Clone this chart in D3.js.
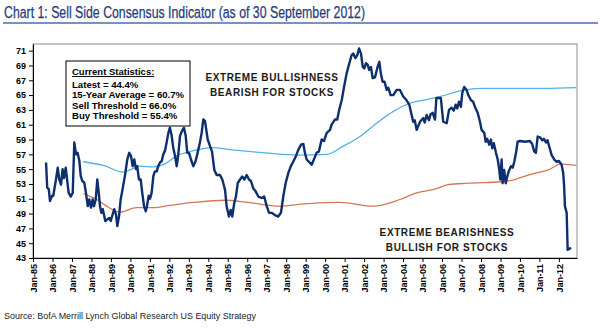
<!DOCTYPE html>
<html>
<head>
<meta charset="utf-8">
<script src="https://cdn.jsdelivr.net/npm/d3@7"></script>
<style>
  body { margin: 0; background: #fff; }
  svg { display: block; }
</style>
</head>
<body>
<div id="chart"></div>
<script>
// indicator (monthly-ish readings, decimal years)
const indicatorYears = [
  1985.67, 1985.73, 1985.81, 1985.87, 1985.98, 1986.04, 1986.18, 1986.27, 1986.35, 1986.44,
  1986.52, 1986.59, 1986.68, 1986.75, 1986.83, 1986.94, 1987.04, 1987.12, 1987.21, 1987.29,
  1987.38, 1987.45, 1987.53, 1987.63, 1987.72, 1987.81, 1987.89, 1987.98, 1988.06, 1988.13,
  1988.22, 1988.30, 1988.37, 1988.44, 1988.51, 1988.58, 1988.64, 1988.71, 1988.81, 1988.92,
  1988.99, 1989.09, 1989.17, 1989.26, 1989.33, 1989.42, 1989.50, 1989.60, 1989.72, 1989.84,
  1989.94, 1990.03, 1990.12, 1990.20, 1990.29, 1990.35, 1990.44, 1990.53, 1990.61, 1990.70,
  1990.79, 1990.85, 1990.94, 1991.01, 1991.09, 1991.18, 1991.26, 1991.35, 1991.43, 1991.52,
  1991.61, 1991.69, 1991.78, 1991.86, 1991.95, 1992.03, 1992.12, 1992.20, 1992.29, 1992.38,
  1992.46, 1992.55, 1992.66, 1992.75, 1992.84, 1992.92, 1993.01, 1993.11, 1993.23, 1993.35,
  1993.45, 1993.57, 1993.66, 1993.74, 1993.83, 1993.97, 1994.09, 1994.19, 1994.31, 1994.43,
  1994.60, 1994.72, 1994.86, 1994.94, 1995.06, 1995.15, 1995.23, 1995.33, 1995.42, 1995.51,
  1995.63, 1995.74, 1995.85, 1995.97, 1996.09, 1996.19, 1996.31, 1996.43, 1996.57, 1996.74,
  1996.87, 1997.00, 1997.12, 1997.25, 1997.42, 1997.59, 1997.73, 1997.85, 1997.97, 1998.11,
  1998.24, 1998.36, 1998.49, 1998.62, 1998.76, 1998.88, 1998.96, 1999.05, 1999.31, 1999.56,
  1999.68, 1999.82, 1999.94, 2000.08, 2000.25, 2000.33, 2000.50, 2000.62, 2000.72, 2000.85,
  2000.97, 2001.10, 2001.24, 2001.36, 2001.44, 2001.55, 2001.65, 2001.74, 2001.84, 2001.93,
  2002.01, 2002.09, 2002.18, 2002.26, 2002.35, 2002.44, 2002.56, 2002.67, 2002.78, 2002.86,
  2002.95, 2003.05, 2003.16, 2003.24, 2003.36, 2003.50, 2003.67, 2003.84, 2004.01, 2004.18,
  2004.32, 2004.44, 2004.52, 2004.60, 2004.70, 2004.87, 2005.04, 2005.11, 2005.21, 2005.33,
  2005.41, 2005.52, 2005.64, 2005.71, 2005.81, 2005.94, 2006.06, 2006.24, 2006.36, 2006.49,
  2006.60, 2006.70, 2006.78, 2006.87, 2006.97, 2007.04, 2007.14, 2007.26, 2007.35, 2007.49,
  2007.60, 2007.69, 2007.83, 2007.95, 2008.03, 2008.17, 2008.24, 2008.32, 2008.42, 2008.51,
  2008.58, 2008.66, 2008.77, 2008.86, 2008.94, 2008.99, 2009.06, 2009.11, 2009.19, 2009.27,
  2009.37, 2009.44, 2009.54, 2009.63, 2009.71, 2009.80, 2009.88, 2010.00, 2010.26, 2010.51,
  2010.63, 2010.73, 2010.82, 2010.91, 2011.03, 2011.15, 2011.23, 2011.34, 2011.42, 2011.50,
  2011.63, 2011.76, 2011.88, 2012.00, 2012.14, 2012.22, 2012.27, 2012.31, 2012.40, 2012.45,
  2012.57, 2012.62
];
const indicatorValues = [
  55.9, 52.5, 52.3, 50.7, 51.4, 51.4, 53.6, 55.2, 53.6, 52.9,
  55.0, 53.8, 55.2, 53.6, 51.8, 51.3, 51.8, 58.6, 57.0, 57.2,
  56.1, 54.1, 53.4, 53.2, 51.8, 50.0, 50.9, 49.8, 50.9, 50.0,
  50.9, 53.6, 52.0, 50.0, 49.1, 49.6, 48.9, 48.0, 48.2, 48.4,
  48.0, 48.9, 49.6, 48.9, 47.3, 48.7, 50.9, 52.3, 54.1, 56.3,
  57.2, 56.8, 55.4, 56.3, 55.0, 55.4, 53.6, 53.6, 51.8, 50.0,
  49.3, 50.0, 51.4, 51.0, 51.8, 54.1, 54.7, 54.7, 55.4, 55.9,
  56.1, 57.0, 57.5, 58.6, 59.9, 60.6, 59.5, 57.9, 56.8, 55.4,
  57.0, 59.5, 60.2, 60.6, 59.5, 57.2, 57.2, 56.3, 55.4, 56.1,
  57.2, 58.6, 59.9, 61.7, 61.5, 59.0, 58.1, 57.4, 54.9, 54.2,
  54.2, 53.6, 52.2, 50.0, 48.6, 49.5, 48.6, 50.4, 51.3, 53.1,
  53.6, 54.0, 53.6, 54.2, 53.6, 53.4, 52.4, 52.0, 51.3, 51.1,
  51.3, 50.0, 49.1, 49.1, 48.8, 48.6, 49.1, 51.3, 53.1, 54.5,
  55.4, 56.0, 56.7, 57.6, 58.3, 58.4, 57.2, 56.3, 55.6, 57.2,
  57.4, 59.0, 58.8, 59.9, 60.3, 61.0, 61.7, 61.7, 63.0, 64.3,
  66.1, 67.9, 69.3, 70.4, 70.6, 70.0, 70.4, 71.3, 70.6, 68.8,
  68.6, 69.3, 69.1, 68.4, 68.8, 67.3, 67.4, 68.6, 69.5, 67.9,
  66.8, 66.8, 65.7, 66.0, 65.0, 65.0, 65.7, 65.7, 64.8, 64.3,
  63.7, 62.3, 61.4, 61.6, 60.3, 61.4, 61.9, 61.3, 62.3, 61.6,
  62.4, 62.6, 61.7, 64.6, 64.6, 64.6, 61.4, 61.2, 63.0, 63.3,
  62.9, 63.7, 63.2, 64.1, 63.4, 65.3, 66.1, 65.7, 65.0, 64.3,
  64.1, 63.4, 62.6, 61.4, 60.3, 59.9, 58.7, 59.1, 58.3, 59.0,
  57.8, 58.5, 57.2, 56.3, 54.9, 53.6, 56.3, 53.1, 54.9, 53.1,
  54.2, 54.8, 55.4, 55.2, 56.0, 57.2, 58.7, 58.8, 58.7, 58.8,
  58.4, 57.4, 57.2, 59.4, 59.3, 58.9, 59.1, 58.6, 58.9, 58.1,
  56.9, 56.3, 56.0, 56.1, 55.6, 54.5, 52.7, 50.0, 49.1, 44.1,
  44.3, 44.4
];

// sell threshold (light blue)
const sellYears = [
  1987.58, 1988.61, 1989.64, 1989.98, 1990.49, 1991.18, 1991.78, 1992.38, 1992.80, 1993.23,
  1993.83, 1994.19, 1995.20, 1996.91, 1998.62, 2000.08, 2000.93, 2001.79, 2002.64, 2003.50,
  2004.35, 2005.21, 2005.89, 2007.18, 2008.20, 2009.90, 2011.28, 2012.90
];
const sellValues = [
  56.0, 55.5, 54.6, 54.9, 55.4, 55.3, 55.7, 56.8, 57.2, 57.5,
  57.8, 57.9, 57.6, 57.2, 56.9, 57.0, 58.1, 59.4, 61.2, 62.8,
  63.9, 64.4, 64.8, 65.7, 65.9, 65.9, 65.9, 66.0
];

// buy threshold (orange-red)
const buyYears = [
  1987.58, 1988.27, 1988.78, 1989.47, 1990.32, 1991.18, 1992.03, 1993.23, 1994.86, 1996.05,
  1997.68, 1998.96, 2000.76, 2002.47, 2003.84, 2004.70, 2005.64, 2006.32, 2007.35, 2009.06,
  2009.74, 2010.43, 2011.45, 2012.14, 2012.48, 2012.90
];
const buyValues = [
  51.7, 50.9, 50.0, 49.2, 49.8, 49.8, 50.1, 50.5, 50.8, 50.5,
  50.0, 50.3, 50.5, 50.0, 50.9, 51.8, 52.3, 52.9, 53.1, 53.3,
  53.6, 54.2, 54.9, 55.7, 55.6, 55.5
];

const yTicks = d3.range(43, 72, 2);
const xTickYears = d3.range(1985, 2013);

const statsLines = [
  "Latest = 44.4%",
  "15-Year Average = 60.7%",
  "Sell Threshold = 66.0%",
  "Buy Threshold = 55.4%"
];

const width = 600, height = 328;
const plot = {left: 33, right: 577, top: 44, bottom: 258};

const svg = d3.select("#chart").append("svg")
  .attr("width", width)
  .attr("height", height);

const x = d3.scaleLinear().domain([1985, 2012.93]).range([plot.left, plot.right]);
const y = d3.scaleLinear().domain([43, 71.9]).range([plot.bottom, plot.top]);

// title
svg.append("text")
  .attr("x", 4)
  .attr("y", 18)
  .attr("textLength", 361)
  .attr("lengthAdjust", "spacingAndGlyphs")
  .style("font-family", "'Liberation Sans Narrow', 'Arial Narrow', Arial, sans-serif")
  .style("font-size", "16px")
  .style("fill", "#1f3d7a")
  .style("stroke", "#1f3d7a")
  .style("stroke-width", 0.25)
  .text("Chart 1: Sell Side Consensus Indicator (as of 30 September 2012)");

svg.append("line")
  .attr("x1", 3).attr("x2", 598)
  .attr("y1", 23).attr("y2", 23)
  .attr("stroke", "#4a6db0")
  .attr("stroke-width", 1.5);

// plot frame
svg.append("rect")
  .attr("x", plot.left).attr("y", plot.top)
  .attr("width", plot.right - plot.left)
  .attr("height", plot.bottom - plot.top)
  .attr("fill", "none")
  .attr("stroke", "#8c8c8c")
  .attr("stroke-width", 1);

// axes
const yAxis = svg.append("g")
  .attr("transform", "translate(" + plot.left + ",0)")
  .call(d3.axisLeft(y).tickValues(yTicks).tickSize(4).tickSizeOuter(0).tickFormat(d3.format("d")));

yAxis.selectAll("text")
  .attr("x", -7)
  .style("font-family", "'Liberation Sans', Arial, sans-serif")
  .style("font-weight", "bold")
  .style("font-size", "9px")
  .style("fill", "#000");

const xAxis = svg.append("g")
  .attr("transform", "translate(0," + plot.bottom + ")")
  .call(d3.axisBottom(x).tickValues(xTickYears).tickSize(4).tickSizeOuter(0)
    .tickFormat(d => "Jan-" + String(d).slice(2)));

xAxis.selectAll("text")
  .attr("transform", "rotate(-90)")
  .attr("x", -6)
  .attr("y", 0)
  .attr("dy", "0.35em")
  .style("text-anchor", "end")
  .style("font-family", "'Liberation Sans', Arial, sans-serif")
  .style("font-weight", "bold")
  .style("font-size", "9px")
  .style("fill", "#000");

svg.selectAll(".domain, .tick line").attr("stroke", "#000");

// lines
const smooth = d3.line()
  .x(d => x(d[0]))
  .y(d => y(d[1]))
  .curve(d3.curveMonotoneX);

const sharp = d3.line()
  .x(d => x(d[0]))
  .y(d => y(d[1]));

svg.append("path")
  .datum(d3.zip(buyYears, buyValues))
  .attr("fill", "none")
  .attr("stroke", "#d2785a")
  .attr("stroke-width", 1.3)
  .attr("d", smooth);

svg.append("path")
  .datum(d3.zip(sellYears, sellValues))
  .attr("fill", "none")
  .attr("stroke", "#55b0e4")
  .attr("stroke-width", 1.3)
  .attr("d", smooth);

svg.append("path")
  .datum(d3.zip(indicatorYears, indicatorValues))
  .attr("fill", "none")
  .attr("stroke", "#0d2f6e")
  .attr("stroke-width", 2.4)
  .attr("stroke-linejoin", "round")
  .attr("d", sharp);

// stats box
const box = svg.append("g");
box.append("rect")
  .attr("x", 66).attr("y", 61)
  .attr("width", 124).attr("height", 65)
  .attr("fill", "#fff")
  .attr("stroke", "#000")
  .attr("stroke-width", 1);

box.append("text")
  .attr("x", 72).attr("y", 75)
  .style("font-family", "'Liberation Sans', Arial, sans-serif")
  .style("font-weight", "bold")
  .style("font-size", "9.5px")
  .style("text-decoration", "underline")
  .text("Current Statistics:");

box.selectAll("text.stat")
  .data(statsLines)
  .join("text")
  .attr("class", "stat")
  .attr("x", 72)
  .attr("y", (d, i) => 87.5 + i * 10.6)
  .style("font-family", "'Liberation Sans', Arial, sans-serif")
  .style("font-weight", "bold")
  .style("font-size", "9.6px")
  .text(d => d);

// annotations
function note(lines, cx, y0) {
  svg.selectAll(null)
    .data(lines)
    .join("text")
    .attr("x", cx)
    .attr("y", (d, i) => y0 + i * 14.5)
    .attr("text-anchor", "middle")
    .style("font-family", "'Liberation Sans', Arial, sans-serif")
    .style("font-weight", "bold")
    .style("font-size", "10px")
    .style("letter-spacing", "0.6px")
    .style("fill", "#1a1a1a")
    .text(d => d);
}
note(["EXTREME BULLISHNESS", "BEARISH FOR STOCKS"], 272, 81);
note(["EXTREME BEARISHNESS", "BULLISH FOR STOCKS"], 447, 236);

// source
svg.append("text")
  .attr("x", 4)
  .attr("y", 319)
  .attr("textLength", 252)
  .attr("lengthAdjust", "spacingAndGlyphs")
  .style("font-family", "'Liberation Sans Narrow', 'Arial Narrow', Arial, sans-serif")
  .style("font-size", "9.5px")
  .style("fill", "#222")
  .text("Source: BofA Merrill Lynch Global Research US Equity Strategy");
</script>
</body>
</html>
